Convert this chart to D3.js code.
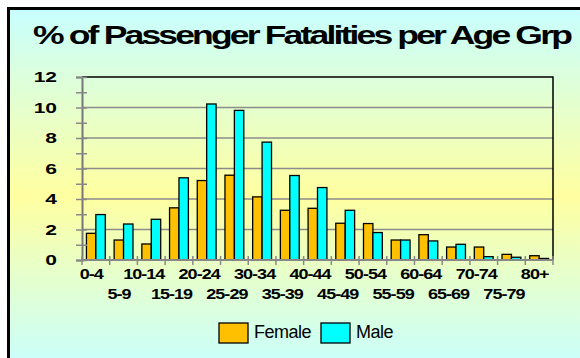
<!DOCTYPE html>
<html>
<head>
<meta charset="utf-8">
<script src="https://cdn.jsdelivr.net/npm/d3@7"></script>
<style>
  body { margin: 0; background: #fff; }
  text { font-family: "Liberation Sans", Arial, sans-serif; font-weight: bold; }
  text.leg { font-weight: normal; }
</style>
</head>
<body>
<script>
var width = 580,
    height = 358;

// age groups and the two series (% of passenger fatalities)
var ageGroups = ["0-4", "5-9", "10-14", "15-19", "20-24", "25-29", "30-34", "35-39",
                 "40-44", "45-49", "50-54", "55-59", "60-64", "65-69", "70-74", "75-79", "80+"];
var female = [1.75, 1.31, 1.05, 3.42, 5.21, 5.56, 4.14, 3.26,
              3.39, 2.41, 2.39, 1.31, 1.66, 0.85, 0.85, 0.37, 0.28];
var male   = [2.98, 2.36, 2.67, 5.39, 10.23, 9.81, 7.73, 5.54,
              4.75, 3.26, 1.80, 1.31, 1.25, 1.03, 0.22, 0.18, 0.10];
var yTicks = [0, 2, 4, 6, 8, 10, 12];
var seriesNames = ["Female", "Male"];
var colors = ["#ffc000", "#00ffff"];

var margin = {top: 77, right: 27, bottom: 98, left: 82};

var svg = d3.select("body").append("svg")
    .attr("width", width)
    .attr("height", height);

// background gradient
var grad = svg.append("defs").append("linearGradient")
    .attr("id", "bg")
    .attr("x1", 0).attr("y1", 0).attr("x2", 0).attr("y2", 1);
grad.append("stop").attr("offset", "0%").attr("stop-color", "#c8ffff");
grad.append("stop").attr("offset", "52%").attr("stop-color", "#ffffa0");
grad.append("stop").attr("offset", "100%").attr("stop-color", "#c8ffff");

svg.append("rect")
    .attr("x", 8.5).attr("y", 8.5)
    .attr("width", 580).attr("height", 360)
    .attr("fill", "url(#bg)")
    .attr("stroke", "#000")
    .attr("stroke-width", 3);

// title
svg.append("text")
    .attr("x", 33).attr("y", 44)
    .attr("font-size", 25)
    .attr("letter-spacing", -2)
    .attr("textLength", 537)
    .attr("lengthAdjust", "spacingAndGlyphs")
    .text("% of Passenger Fatalities per Age Grp");

var x0 = margin.left, x1 = 553,
    yTop = margin.top, yBot = 260;

var x = d3.scaleBand()
    .domain(ageGroups)
    .range([x0, x1])
    .paddingInner(0.32)
    .paddingOuter(0.16);

var xs = d3.scaleBand()
    .domain(seriesNames)
    .range([0, x.bandwidth()]);

var y = d3.scaleLinear()
    .domain([0, 12])
    .range([yBot, yTop]);

var plot = svg.append("g");

// gridlines
plot.selectAll("line.grid")
    .data(yTicks.filter(function(d) { return d > 0 && d < 12; }))
    .enter().append("line")
    .attr("class", "grid")
    .attr("x1", x0).attr("x2", x1)
    .attr("y1", function(d) { return y(d); })
    .attr("y2", function(d) { return y(d); })
    .attr("stroke", "#8c8c8c")
    .attr("stroke-width", 1.5);

// top and right plot border
plot.append("path")
    .attr("d", "M" + x0 + "," + y(12) + "H" + x1 + "V" + yBot)
    .attr("fill", "none")
    .attr("stroke", "#000")
    .attr("stroke-width", 1.5);

// bars
var groups = plot.selectAll("g.grp")
    .data(ageGroups)
    .enter().append("g")
    .attr("transform", function(d) { return "translate(" + x(d) + ",0)"; });

groups.selectAll("rect")
    .data(function(d, i) { return [female[i], male[i]]; })
    .enter().append("rect")
    .attr("x", function(d, j) { return xs(seriesNames[j]); })
    .attr("width", xs.bandwidth())
    .attr("y", function(d) { return y(d); })
    .attr("height", function(d) { return yBot - y(d); })
    .attr("fill", function(d, j) { return colors[j]; })
    .attr("stroke", "#000")
    .attr("stroke-width", 1.3);

// y axis with minor ticks
var yAxis = d3.axisLeft(y)
    .tickValues(d3.range(0, 13))
    .tickSize(6)
    .tickFormat("");
var yg = plot.append("g")
    .attr("transform", "translate(" + x0 + ",0)")
    .call(yAxis);
yg.select(".domain").attr("stroke", "#777").attr("stroke-width", 2);
yg.selectAll(".tick line").attr("stroke", "#888").attr("stroke-width", 1.5).attr("x2", 5).attr("x1", -6);

plot.selectAll("text.ylab")
    .data(yTicks)
    .enter().append("text")
    .attr("class", "ylab")
    .attr("transform", function(d) { return "translate(57," + (y(d) + 5) + ") scale(1.4,1)"; })
    .attr("text-anchor", "end")
    .attr("font-size", 15)
    .text(function(d) { return d; });

// x axis
plot.append("line")
    .attr("x1", x0).attr("x2", x1)
    .attr("y1", yBot).attr("y2", yBot)
    .attr("stroke", "#888").attr("stroke-width", 2);

var step = x.step();
plot.selectAll("line.xtick")
    .data(d3.range(ageGroups.length + 1))
    .enter().append("line")
    .attr("class", "xtick")
    .attr("x1", function(i) { return x0 + i * step; })
    .attr("x2", function(i) { return x0 + i * step; })
    .attr("y1", yBot - 4).attr("y2", yBot + 5)
    .attr("stroke", "#888").attr("stroke-width", 1.5);

plot.selectAll("text.xlab")
    .data(ageGroups)
    .enter().append("text")
    .attr("class", "xlab")
    .attr("transform", function(d, i) {
      var cx = x(d) + x.bandwidth() / 2 - 1.5 * d.length;
      return "translate(" + cx + "," + (i % 2 === 0 ? 279 : 299) + ") scale(1.2,1)";
    })
    .attr("text-anchor", "middle")
    .attr("font-size", 15)
    .attr("letter-spacing", -0.8)
    .text(function(d) { return d; });

// legend
var legend = svg.append("g");
var legendX = [219, 321];
seriesNames.forEach(function(name, i) {
  legend.append("rect")
      .attr("x", legendX[i]).attr("y", 323)
      .attr("width", 29).attr("height", 20)
      .attr("fill", colors[i])
      .attr("stroke", "#000")
      .attr("stroke-width", 1.3);
  legend.append("text")
      .attr("class", "leg")
      .attr("x", legendX[i] + 35).attr("y", 338)
      .attr("font-size", 18)
      .attr("letter-spacing", -0.5)
      .text(name);
});
</script>
</body>
</html>
